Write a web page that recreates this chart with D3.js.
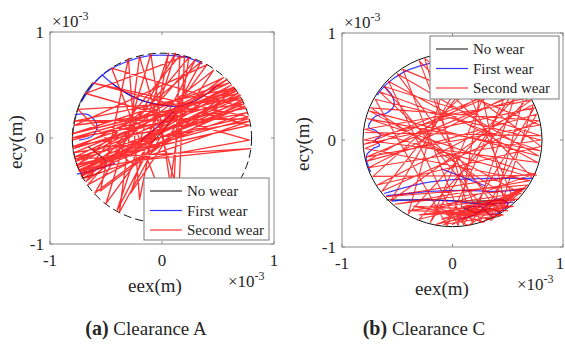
<!DOCTYPE html>
<html>
<head>
<meta charset="utf-8">
<script src="https://cdn.jsdelivr.net/npm/d3@7"></script>
<style>
  body { margin: 0; background: #fff; }
  svg { display: block; }
</style>
</head>
<body>
<svg id="fig" width="565" height="347"></svg>
<script>
// Journal-centre orbits (eccentricity components, units of 1e-3 m)
const axisTicks = [-1, 0, 1];
const legendLabels = ["No wear", "First wear", "Second wear"];
const seriesColors = ["#000000", "#0000ff", "#ff0000"];

// ---- Clearance A ----
const clearanceA = 0.8;
const secondWearA = [
  [-0.80,-0.02],[0.70,0.40],[-0.75,-0.28],[0.74,0.30],[-0.72,-0.36],[0.64,0.48],
  [-0.79,-0.14],[0.78,0.16],[-0.70,-0.38],[0.58,0.55],[-0.77,-0.22],[0.72,0.34],
  [-0.66,-0.44],[0.30,0.74],[-0.40,-0.68],[0.06,0.80],[-0.20,-0.58],[-0.30,0.75],
  [-0.55,-0.50],[0.66,0.46],[-0.79,-0.08],[0.76,0.24],[-0.73,-0.32],[0.68,0.42],
  [-0.80,0.04],[0.60,0.52],[-0.78,-0.18],[0.77,0.20],[-0.62,0.52],[0.78,0.12],
  [-0.76,-0.25],[0.62,0.50],[-0.71,-0.35],[0.16,0.78],[0.10,-0.62],[-0.10,0.79],
  [-0.50,-0.62],[0.40,0.69],[-0.78,0.12],[0.73,0.32],[-0.74,-0.30],[0.70,0.38],
  [-0.79,-0.10],[0.55,0.57],[-0.68,-0.41],[0.24,0.76],[0.04,-0.66],[-0.45,0.66],
  [0.75,0.28],[-0.80,0.00],[0.66,0.44],[-0.77,-0.20],[0.79,-0.10],[-0.30,-0.22],
  [-0.75,0.27],[0.72,0.36],[-0.72,-0.34],[0.46,0.64],[-0.28,-0.52],[0.12,0.80],
  [-0.60,-0.52],[0.64,0.47],[-0.78,0.16],[0.77,0.18],[-0.76,-0.26],[0.35,0.72],
  [-0.38,-0.70],[-0.20,0.77],[0.15,-0.55],[0.20,0.77],[-0.68,0.42],[0.78,-0.02],
  [-0.74,-0.31],[0.70,0.41]
];
const firstWearA = [
  [[-0.72,0.34],[-0.62,0.50],[-0.50,0.62],[-0.34,0.71],[-0.15,0.77],[0.05,0.78],[0.22,0.76],[0.36,0.70]],
  [[-0.54,0.60],[-0.40,0.48],[-0.22,0.37],[0.00,0.31],[0.15,0.30],[0.33,0.37],[0.50,0.50]],
  [[-0.78,0.22],[-0.66,0.22],[-0.58,0.12],[-0.62,0.02],[-0.74,-0.02]],
  [[-0.19,-0.03],[-0.05,0.10],[0.11,0.25]],
  [[-0.76,-0.34],[-0.60,-0.30],[-0.42,-0.24]]
];
const noWearA = [
  [[-0.62,0.52],[-0.72,0.36],[-0.78,0.15],[-0.80,-0.05],[-0.77,-0.22],[-0.70,-0.38]],
  [[-0.45,0.52],[-0.30,0.41],[-0.10,0.33],[0.10,0.30]],
  [[0.12,0.22],[0.02,0.08],[-0.10,-0.05]],
  [[-0.72,-0.38],[-0.62,-0.35],[-0.54,-0.32]],
  [[-0.66,-0.08],[-0.56,-0.16],[-0.50,-0.22]]
];

// ---- Clearance C ----
const clearanceC = 0.81;
const secondWearC = [
  [-0.79,0.07],[0.80,0.04],[-0.62,0.50],[0.35,-0.72],[0.66,0.46],[-0.78,-0.16],[0.79,0.14],
  [-0.45,0.66],[0.10,-0.79],[0.74,0.30],[-0.80,-0.04],[0.60,0.53],[-0.20,-0.77],[0.40,0.70],
  [-0.72,-0.34],[0.76,-0.33],[-0.77,0.20],[0.79,-0.10],[-0.66,0.45],[0.48,-0.64],[0.20,0.77],
  [-0.56,-0.57],[0.71,0.37],[-0.79,0.10],[0.72,-0.35],[-0.30,0.74],[0.25,-0.76],[0.76,0.24],
  [-0.78,-0.20],[0.55,0.58],[-0.05,-0.80],[-0.70,0.38],[0.80,0.00],[-0.76,-0.26],[0.64,0.48],
  [-0.40,-0.69],[0.00,0.80],[0.56,-0.57],[-0.74,0.30],[0.78,0.18],[-0.64,-0.48],[0.30,0.74],
  [0.05,-0.80],[-0.58,0.55],[0.77,-0.21],[-0.80,0.00],[0.69,0.40],[-0.30,-0.74],[0.62,-0.50],
  [-0.75,0.27],[0.78,-0.15],[-0.50,0.62],[0.42,-0.68],[0.73,0.33],[-0.68,-0.42],[0.80,-0.06],
  [-0.25,0.76],[0.18,-0.78],[0.60,0.52],[-0.79,-0.08],[0.70,-0.38],[-0.52,-0.60],[0.66,-0.45],
  [-0.15,-0.79],[0.52,-0.62],[-0.05,-0.70],[0.40,-0.70],[0.10,-0.62],[0.60,-0.55],[-0.25,-0.70],
  [0.30,-0.60],[0.55,-0.62],[-0.10,-0.74],[0.45,-0.55],[0.00,-0.79],[0.62,-0.45],[0.20,-0.72],
  [-0.35,-0.62],[0.50,-0.66],[0.05,-0.66],[0.35,-0.75],[0.68,-0.42],[-0.60,-0.53],[0.75,-0.31],
  [-0.12,-0.64],[0.28,-0.77],[0.58,-0.50],[-0.20,-0.62],[0.14,-0.80],[0.48,-0.58],[-0.30,-0.70],
  [0.38,-0.66],[0.02,-0.72],[0.63,-0.48],[0.22,-0.64],[-0.08,-0.79],[0.46,-0.70],[0.12,-0.70],
  [0.54,-0.54],[-0.40,-0.66],[0.32,-0.68],[0.66,-0.44],[0.08,-0.76]
];
const firstWearC = [
  [[-0.68,0.42],[-0.60,0.52],[-0.45,0.63],[-0.30,0.69],[-0.18,0.72]],
  [[-0.62,0.50],[-0.55,0.42],[-0.53,0.32],[-0.60,0.25],[-0.70,0.22],[-0.76,0.12],[-0.70,0.09],
   [-0.65,0.04],[-0.70,0.00],[-0.66,-0.05],[-0.72,-0.08],[-0.78,-0.15],[-0.74,-0.30]],
  [[-0.62,-0.50],[-0.45,-0.45],[-0.25,-0.40],[0.00,-0.37],[0.30,-0.36],[0.72,-0.36]],
  [[-0.60,-0.52],[-0.40,-0.50],[-0.20,-0.48],[0.10,-0.47],[0.40,-0.48],[0.65,-0.46]],
  [[-0.55,-0.57],[-0.30,-0.56],[0.00,-0.57],[0.30,-0.60],[0.55,-0.58]],
  [[-0.10,-0.27],[0.10,-0.35],[0.30,-0.43]],
  [[0.10,-0.65],[0.25,-0.62],[0.35,-0.70],[0.50,-0.60],[0.40,-0.55],[0.20,-0.70],[0.05,-0.74]]
];
const noWearC = [
  [[-0.60,-0.56],[-0.20,-0.56],[0.20,-0.57],[0.50,-0.56]],
  [[0.08,-0.62],[0.22,-0.68],[0.34,-0.64],[0.44,-0.70],[0.30,-0.74]],
  [[0.15,-0.60],[0.30,-0.58],[0.40,-0.62]]
];

const SERIF = "'Times New Roman', Times, 'Liberation Serif', Tinos, 'Noto Serif', 'DejaVu Serif', serif";
const svg = d3.select("#fig");

function label(g, x, y, size, txt) {
  return g.append("text").attr("x", x).attr("y", y)
    .style("font-family", SERIF).attr("font-size", size).attr("fill", "#262626").text(txt);
}

function drawPanel(p) {
  const x = d3.scaleLinear().domain([-1, 1]).range([p.left, p.left + p.width]);
  const y = d3.scaleLinear().domain([-1, 1]).range([p.top + p.height, p.top]);
  const g = svg.append("g");
  const clipId = "clip-" + p.id;
  g.append("clipPath").attr("id", clipId).append("rect")
    .attr("x", p.left).attr("y", p.top).attr("width", p.width).attr("height", p.height);
  const plot = g.append("g").attr("clip-path", `url(#${clipId})`);

  const straight = d3.line().x(d => x(d[0])).y(d => y(d[1]));
  const smooth = d3.line().x(d => x(d[0])).y(d => y(d[1])).curve(d3.curveCatmullRom.alpha(0.5));

  // clearance circle
  plot.append("ellipse")
    .attr("cx", x(0)).attr("cy", y(0))
    .attr("rx", x(p.clearance) - x(0)).attr("ry", y(0) - y(p.clearance))
    .attr("fill", "none").attr("stroke", "#111").attr("stroke-width", 1)
    .attr("stroke-dasharray", p.circleDash);

  p.noWear.forEach(s => plot.append("path").attr("d", smooth(s))
    .attr("fill", "none").attr("stroke", "#222").attr("stroke-width", 1.1).attr("stroke-opacity", 0.8));
  p.firstWear.forEach(s => plot.append("path").attr("d", smooth(s))
    .attr("fill", "none").attr("stroke", "#0000ff").attr("stroke-width", 1.3).attr("stroke-opacity", 0.75));
  plot.append("path").attr("d", straight(p.secondWear))
    .attr("fill", "none").attr("stroke", "#ff0000").attr("stroke-width", p.redWidth)
    .attr("stroke-opacity", 0.8).attr("stroke-linejoin", "round");

  // axes box and inward ticks
  g.append("rect").attr("x", p.left).attr("y", p.top).attr("width", p.width).attr("height", p.height)
    .attr("fill", "none").attr("stroke", "#8a8a8a").attr("stroke-width", 1);
  axisTicks.forEach(t => {
    g.append("line").attr("x1", x(t)).attr("x2", x(t)).attr("y1", p.top + p.height).attr("y2", p.top + p.height - 3)
      .attr("stroke", "#8a8a8a");
    g.append("line").attr("x1", x(t)).attr("x2", x(t)).attr("y1", p.top).attr("y2", p.top + 3)
      .attr("stroke", "#8a8a8a");
    g.append("line").attr("y1", y(t)).attr("y2", y(t)).attr("x1", p.left).attr("x2", p.left + 3)
      .attr("stroke", "#8a8a8a");
    g.append("line").attr("y1", y(t)).attr("y2", y(t)).attr("x1", p.left + p.width).attr("x2", p.left + p.width - 3)
      .attr("stroke", "#8a8a8a");
  });

  // tick labels
  axisTicks.forEach(t => {
    label(g, Math.min(x(t), 560), p.top + p.height + 22, 17, t).attr("text-anchor", "middle");
    label(g, p.left - 6, y(t) + 6, 17, t).attr("text-anchor", "end");
  });

  // exponent markers
  const expTop = label(g, p.left + 2, p.top - 5, 17, null);
  expTop.append("tspan").text("\u00d710");
  expTop.append("tspan").attr("dy", -7).attr("font-size", 12).text("-3");
  const expBot = label(g, Math.min(p.left + p.width - 46, 517), p.top + p.height + 43, 17, null);
  expBot.append("tspan").text("\u00d710");
  expBot.append("tspan").attr("dy", -7).attr("font-size", 12).text("-3");

  // axis titles
  label(g, p.xTitleX, p.top + p.height + 48, 19, "eex(m)").attr("text-anchor", "middle");
  label(g, 0, 0, 19, "ecy(m)").attr("text-anchor", "middle")
    .attr("transform", `translate(${p.yTitleX},${y(0) + 4}) rotate(-90)`);

  // legend
  const L = p.legend;
  g.append("rect").attr("x", L.x).attr("y", L.y).attr("width", L.w).attr("height", L.h)
    .attr("fill", "#fff").attr("stroke", "#7a7a7a").attr("stroke-width", 1);
  legendLabels.forEach((lab, i) => {
    const yy = L.y + 13 + i * 19.5;
    g.append("line").attr("x1", L.x + 6).attr("x2", L.x + 38).attr("y1", yy).attr("y2", yy)
      .attr("stroke", seriesColors[i]).attr("stroke-width", 1.2).attr("stroke-opacity", 0.8);
    label(g, L.x + 43, yy + 5, 15, lab);
  });

  // caption
  const cap = label(g, p.capX, 335, 19, null).attr("text-anchor", "middle");
  cap.append("tspan").attr("font-weight", "bold").attr("font-size", 20).text(p.capLetter);
  cap.append("tspan").text(" " + p.capText);
}

drawPanel({
  id: "a", left: 50, top: 32, width: 224, height: 212, clearance: clearanceA, circleDash: "8,4",
  secondWear: secondWearA, firstWear: firstWearA, noWear: noWearA, redWidth: 1.35,
  legend: { x: 144, y: 178, w: 125, h: 62 },
  xTitleX: 155, yTitleX: 22, capX: 146, capLetter: "(a)", capText: "Clearance A"
});
drawPanel({
  id: "c", left: 342, top: 33, width: 221, height: 214, clearance: clearanceC, circleDash: null,
  secondWear: secondWearC, firstWear: firstWearC, noWear: noWearC, redWidth: 1.1,
  legend: { x: 430, y: 36, w: 129, h: 63 },
  xTitleX: 442, yTitleX: 309, capX: 424, capLetter: "(b)", capText: "Clearance C"
});
</script>
</body>
</html>
